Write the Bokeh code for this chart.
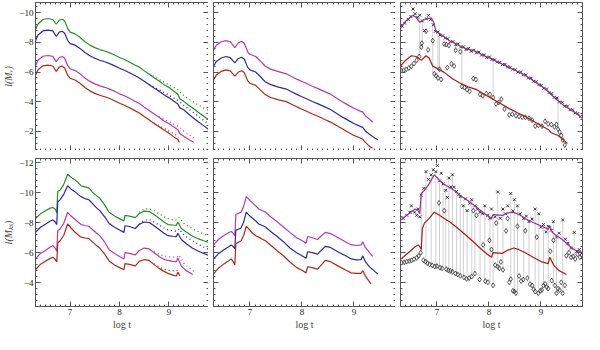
from bokeh.plotting import figure
from bokeh.layouts import gridplot
from bokeh.models import Range1d, LinearAxis, SingleIntervalTicker, CustomJSTickFormatter
from bokeh.embed import file_html
from bokeh.resources import INLINE

# ---------------- data: top row (visual band) ----------------
tl_t = [6.30, 6.35, 6.45, 6.55, 6.65, 6.72, 6.78, 6.84, 6.89, 6.95, 7.00, 7.10, 7.20, 7.30, 7.40, 7.50,
        7.60, 7.70, 7.80, 7.90, 8.00, 8.10, 8.20, 8.30, 8.40, 8.50, 8.60, 8.70, 8.80, 8.90, 9.00, 9.10,
        9.18, 9.22, 9.30, 9.40, 9.50, 9.60, 9.70, 9.80]
tl_green = [-8.87, -9.25, -9.55, -9.62, -9.55, -9.23, -9.50, -9.57, -9.45, -8.95, -8.70, -8.58, -8.35, -8.05, -7.82, -7.65,
            -7.52, -7.42, -7.30, -7.15, -6.98, -6.85, -6.68, -6.50, -6.32, -6.08, -5.85, -5.62, -5.40, -5.15, -4.95, -4.70,
            -4.50, -4.20, -4.02, -3.76, -3.52, -3.27, -3.02, -2.78]
tl_blue = [-8.12, -8.50, -8.78, -8.83, -8.78, -8.40, -8.70, -8.76, -8.62, -8.15, -7.92, -7.82, -7.60, -7.32, -7.10, -6.93,
           -6.80, -6.70, -6.57, -6.42, -6.26, -6.12, -5.95, -5.78, -5.60, -5.38, -5.15, -4.92, -4.70, -4.47, -4.26, -4.03,
           -3.85, -3.58, -3.45, -3.15, -2.88, -2.62, -2.38, -2.13]
tl_mag_t = tl_t[:37]
tl_magenta = [-6.41, -6.80, -7.07, -7.12, -7.06, -6.70, -6.98, -7.05, -6.93, -6.45, -6.22, -6.10, -5.88, -5.60, -5.37, -5.20,
              -5.07, -4.97, -4.85, -4.70, -4.53, -4.40, -4.23, -4.05, -3.87, -3.63, -3.40, -3.17, -2.95, -2.70, -2.50, -2.28,
              -2.10, -1.84, -1.66, -1.45, -1.25]
tl_red_t = tl_t[:33] + [9.21]
tl_red = [-5.77, -6.15, -6.42, -6.47, -6.41, -6.05, -6.33, -6.40, -6.28, -5.80, -5.58, -5.46, -5.24, -4.96, -4.73, -4.56,
          -4.43, -4.33, -4.21, -4.06, -3.89, -3.76, -3.59, -3.41, -3.23, -2.99, -2.76, -2.53, -2.31, -2.08, -1.86, -1.62,
          -1.45, -1.25]
tl_dot_t = [8.60, 8.70, 8.80, 8.90, 9.00, 9.10, 9.20, 9.30, 9.40, 9.50, 9.60, 9.70, 9.80]
tl_green_dot = [-5.87, -5.70, -5.50, -5.32, -5.14, -4.95, -4.75, -4.40, -4.18, -3.97, -3.77, -3.58, -3.40]
tl_blue_dot = [-5.17, -4.98, -4.80, -4.62, -4.44, -4.25, -4.05, -3.75, -3.50, -3.25, -3.00, -2.75, -2.50]
tl_mag_dot_t = [8.80, 8.90, 9.00, 9.10, 9.20, 9.30, 9.40, 9.50]
tl_magenta_dot = [-2.98, -2.80, -2.64, -2.48, -2.30, -2.02, -1.78, -1.55]
tl_red_dot_t = [8.70, 8.80, 8.90, 9.00, 9.10, 9.20]
tl_red_dot = [-2.55, -2.37, -2.20, -2.02, -1.84, -1.62]

tm_t = [6.30, 6.35, 6.45, 6.54, 6.62, 6.71, 6.78, 6.84, 6.89, 6.96, 7.00, 7.11, 7.20, 7.29, 7.40, 7.55,
        7.70, 7.80, 7.90, 8.00, 8.08, 8.20, 8.30, 8.45, 8.55, 8.70, 8.80, 8.90, 9.00, 9.11, 9.17, 9.22,
        9.30, 9.36, 9.41, 9.46]
tm_magenta = [-7.48, -7.80, -8.05, -8.12, -8.05, -7.65, -7.98, -8.08, -7.95, -7.35, -7.20, -7.05, -6.75, -6.41, -6.20, -6.03,
              -5.88, -5.70, -5.52, -5.36, -5.24, -5.04, -4.90, -4.66, -4.50, -4.17, -3.95, -3.75, -3.55, -3.38, -3.29, -3.05,
              -2.82, -2.61]
tm_blue = [-6.37, -6.70, -6.95, -7.05, -6.98, -6.62, -6.92, -7.00, -6.88, -6.30, -6.15, -6.00, -5.70, -5.35, -5.15, -4.98,
           -4.85, -4.67, -4.49, -4.33, -4.21, -4.01, -3.87, -3.63, -3.47, -3.14, -2.92, -2.72, -2.52, -2.35, -2.26, -2.02,
           -1.80, -1.64, -1.53, -1.43]
tm_red = [-5.45, -5.78, -6.05, -6.15, -6.08, -5.72, -6.00, -6.09, -5.97, -5.40, -5.24, -5.10, -4.80, -4.49, -4.28, -4.12,
          -4.00, -3.83, -3.65, -3.49, -3.37, -3.17, -3.03, -2.78, -2.62, -2.32, -2.12, -1.92, -1.72, -1.56, -1.47, -1.25,
          -0.98, -0.85]

tr_line_t = [6.30, 6.40, 6.54, 6.60, 6.67, 6.75, 6.82, 6.89, 6.94, 6.98, 7.05, 7.14, 7.25, 7.35, 7.45, 7.55,
             7.65, 7.77, 7.90, 8.00, 8.08, 8.20, 8.30, 8.39, 8.50, 8.60, 8.70, 8.80, 8.90, 9.02, 9.10, 9.18,
             9.25, 9.33, 9.45, 9.55, 9.64, 9.72, 9.80]
tr_magenta = [-8.97, -9.45, -9.83, -9.70, -9.36, -9.55, -9.60, -9.66, -9.35, -8.76, -8.60, -8.38, -8.10, -7.95, -7.74, -7.60,
              -7.50, -7.37, -7.10, -6.98, -6.84, -6.63, -6.46, -6.30, -6.12, -5.95, -5.77, -5.55, -5.30, -5.02, -4.80, -4.55,
              -4.30, -4.06, -3.70, -3.50, -3.31, -3.10, -2.88]
tr_red_t = [6.30, 6.40, 6.51, 6.60, 6.70, 6.79, 6.85, 6.92, 7.00, 7.14, 7.30, 7.45, 7.60, 7.77, 7.90, 8.08,
            8.20, 8.39, 8.55, 8.70, 8.85, 9.02, 9.15, 9.20, 9.33, 9.42, 9.51]
tr_red = [-6.41, -6.80, -7.10, -7.05, -6.79, -7.10, -6.95, -6.40, -6.25, -5.98, -5.55, -5.24, -5.00, -4.81, -4.52, -4.17,
          -3.92, -3.53, -3.25, -3.00, -2.70, -2.35, -2.10, -1.90, -1.71, -1.45, -1.17]
tr_cross_t = [6.33, 6.38, 6.45, 6.50, 6.54, 6.58, 6.63, 6.67, 6.72, 6.76, 6.80, 6.84, 6.88, 6.93, 6.97, 7.02,
              7.06, 7.11, 7.16, 7.21, 7.26, 7.31, 7.36, 7.41, 7.46, 7.51, 7.56, 7.61, 7.66, 7.71, 7.76, 7.81,
              7.86, 7.91, 7.96, 8.01, 8.06, 8.11, 8.16, 8.21, 8.26, 8.31, 8.36, 8.41, 8.46, 8.51, 8.56, 8.61,
              8.66, 8.71, 8.76, 8.81, 8.86, 8.91, 8.96, 9.01, 9.06, 9.11, 9.16, 9.21, 9.26, 9.31, 9.36, 9.41,
              9.46, 9.51, 9.56, 9.61, 9.66, 9.71, 9.76]
tr_cross = [-9.10, -9.30, -9.55, -9.75, -10.26, -9.94, -9.70, -9.85, -9.45, -8.80, -9.60, -9.83, -9.55, -9.20, -8.75, -8.70,
            -8.50, -8.45, -8.30, -8.25, -8.05, -8.05, -7.85, -7.90, -7.70, -7.70, -7.52, -7.60, -7.40, -7.48, -7.30, -7.35,
            -7.15, -7.15, -6.98, -7.02, -6.85, -6.82, -6.68, -6.65, -6.50, -6.52, -6.35, -6.32, -6.18, -6.15, -6.00, -6.00,
            -5.82, -5.80, -5.60, -5.58, -5.38, -5.35, -5.15, -5.10, -4.90, -4.85, -4.62, -4.55, -4.30, -4.25, -3.98, -3.95,
            -3.70, -3.70, -3.45, -3.45, -3.25, -3.20, -3.00]
tr_diam_t = [6.31, 6.36, 6.41, 6.46, 6.51, 6.56, 6.61, 6.66, 6.70, 6.71, 6.79, 6.83, 6.92, 6.95, 6.98, 7.02,
             7.05, 7.08, 7.14, 7.18, 7.20, 7.23, 7.28, 7.33, 7.36, 7.45, 7.48, 7.53, 7.58, 7.63, 7.70, 7.75,
             7.83, 7.88, 7.95, 8.02, 8.08, 8.14, 8.19, 8.24, 8.30, 8.39, 8.45, 8.52, 8.58, 8.64, 8.70, 8.77,
             8.83, 8.89, 8.95, 9.02, 9.08, 9.14, 9.20, 9.26, 9.30, 9.33, 9.36, 9.39, 9.42, 9.46]
tr_diam = [-6.10, -6.12, -6.18, -6.27, -6.40, -6.58, -6.80, -7.05, -7.69, -7.95, -8.76, -7.50, -8.12, -5.88, -5.75, -5.60,
           -6.20, -5.50, -7.90, -7.85, -6.30, -7.80, -6.55, -6.41, -7.48, -7.37, -5.02, -4.95, -4.81, -4.70, -5.56, -5.50,
           -4.49, -4.40, -4.55, -4.49, -4.28, -3.85, -3.95, -4.17, -3.50, -3.10, -3.15, -3.05, -3.00, -2.95, -2.95, -2.88,
           -2.75, -2.35, -2.40, -2.35, -2.67, -2.50, -2.45, -2.30, -2.46, -2.14, -1.95, -1.71, -1.40, -1.07]
tr_seg_t = [6.67, 6.72, 6.92, 7.02, 7.05, 7.36, 7.48, 8.08, 9.33]
tr_seg_top = [-9.85, -9.45, -9.20, -8.70, -8.50, -7.85, -7.70, -6.85, -4.25]
tr_seg_bot = [-7.05, -7.69, -5.88, -5.60, -6.20, -7.48, -5.02, -4.28, -2.14]

# ---------------- data: bottom row (Ks band) ----------------
bl_t = [6.30, 6.40, 6.50, 6.60, 6.65, 6.70, 6.73, 6.75, 6.80, 6.87, 6.95, 7.02, 7.09, 7.16, 7.22, 7.30,
        7.38, 7.45, 7.52, 7.60, 7.70, 7.79, 7.90, 8.00, 8.09, 8.11, 8.20, 8.32, 8.40, 8.50, 8.60, 8.70,
        8.80, 8.90, 8.98, 9.08, 9.15, 9.18, 9.25, 9.35, 9.48, 9.60, 9.70, 9.80]
bl_green = [-8.29, -8.60, -8.80, -8.98, -9.02, -8.90, -8.67, -10.10, -10.20, -10.55, -11.25, -11.05, -10.90, -10.70, -10.48, -10.40,
            -10.33, -10.05, -9.85, -9.64, -9.20, -8.70, -8.45, -8.28, -8.12, -8.50, -8.45, -8.35, -8.62, -8.78, -8.75, -8.55,
            -8.30, -8.05, -7.88, -7.85, -7.83, -8.05, -7.62, -7.38, -7.10, -6.92, -6.80, -6.70]
bl_blue = [-7.36, -7.70, -7.90, -8.12, -8.19, -8.05, -7.88, -9.40, -9.55, -9.90, -10.48, -10.25, -10.10, -9.90, -9.75, -9.62,
           -9.54, -9.30, -9.05, -8.81, -8.40, -7.95, -7.70, -7.52, -7.36, -7.80, -7.75, -7.62, -7.90, -8.05, -8.02, -7.80,
           -7.55, -7.30, -7.14, -7.10, -7.08, -7.30, -6.88, -6.60, -6.30, -6.10, -5.95, -5.83]
bl_mag_t = bl_t[:41]
bl_magenta = [-5.58, -5.95, -6.15, -6.38, -6.46, -6.30, -6.10, -7.45, -7.60, -7.95, -8.70, -8.45, -8.25, -8.05, -7.88, -7.82,
              -7.77, -7.55, -7.35, -7.14, -6.70, -6.20, -5.95, -5.75, -5.58, -6.00, -5.95, -5.85, -6.15, -6.31, -6.25, -6.00,
              -5.75, -5.55, -5.48, -5.42, -5.40, -5.65, -5.10, -4.80, -4.54]
bl_red_t = bl_t[:38] + [9.22]
bl_red = [-4.86, -5.22, -5.42, -5.62, -5.69, -5.55, -5.38, -6.65, -6.80, -7.15, -7.92, -7.65, -7.40, -7.20, -7.04, -6.98,
          -6.94, -6.72, -6.52, -6.31, -5.90, -5.45, -5.18, -5.00, -4.86, -5.27, -5.22, -5.12, -5.42, -5.54, -5.48, -5.20,
          -4.95, -4.75, -4.62, -4.50, -4.44, -4.70, -4.45]
bl_dot_t = [8.40, 8.50, 8.60, 8.70, 8.80, 8.90, 9.00, 9.10, 9.17, 9.20, 9.30, 9.40, 9.50, 9.60, 9.70, 9.80]
bl_green_dot = [-8.70, -8.92, -8.95, -8.80, -8.60, -8.40, -8.25, -8.20, -8.20, -8.35, -7.95, -7.75, -7.55, -7.40, -7.25, -7.10]
bl_blue_dot = [-7.90, -8.18, -8.22, -8.05, -7.85, -7.65, -7.50, -7.45, -7.45, -7.60, -7.20, -6.95, -6.75, -6.55, -6.38, -6.22]
bl_mag_dot_t = [8.70, 8.80, 8.90, 9.00, 9.10, 9.17, 9.20, 9.30, 9.40, 9.50]
bl_magenta_dot = [-6.05, -5.90, -5.78, -5.72, -5.70, -5.72, -5.85, -5.30, -5.00, -4.75]
bl_red_dot_t = [8.70, 8.80, 8.90, 9.00, 9.10, 9.17, 9.20]
bl_red_dot = [-5.25, -5.05, -4.90, -4.82, -4.78, -4.80, -4.95]

bm_t = [6.30, 6.40, 6.50, 6.60, 6.64, 6.68, 6.71, 6.73, 6.83, 6.88, 6.93, 7.00, 7.05, 7.12, 7.17, 7.24,
        7.30, 7.40, 7.52, 7.65, 7.77, 7.90, 8.00, 8.08, 8.11, 8.20, 8.30, 8.38, 8.45, 8.55, 8.70, 8.85,
        8.95, 9.05, 9.14, 9.17, 9.22, 9.30, 9.36, 9.40, 9.46]
bm_magenta = [-6.52, -6.90, -7.15, -7.35, -7.42, -7.30, -7.14, -8.55, -8.71, -9.10, -9.75, -9.50, -9.33, -9.10, -8.92, -8.80,
              -8.71, -8.40, -8.08, -7.70, -7.36, -7.00, -6.82, -6.63, -7.08, -7.00, -6.88, -7.15, -7.36, -7.28, -7.00, -6.70,
              -6.52, -6.48, -6.52, -6.73, -6.35, -6.00, -5.75]
bm_blue = [-5.58, -5.95, -6.20, -6.42, -6.52, -6.40, -6.27, -7.50, -7.65, -8.05, -8.71, -8.45, -8.30, -8.10, -7.92, -7.82,
           -7.72, -7.42, -7.10, -6.72, -6.31, -6.00, -5.80, -5.62, -6.06, -6.00, -5.90, -6.18, -6.42, -6.35, -6.05, -5.78,
           -5.58, -5.52, -5.54, -5.79, -5.40, -5.05, -4.88, -4.75, -4.58]
bm_red_t = bm_t[:37] + [9.28, 9.33]
bm_red = [-4.58, -4.98, -5.25, -5.48, -5.58, -5.40, -5.17, -6.60, -6.80, -7.15, -7.77, -7.50, -7.30, -7.12, -7.04, -6.90,
          -6.80, -6.50, -6.15, -5.78, -5.38, -5.00, -4.82, -4.65, -5.06, -5.00, -4.90, -5.20, -5.48, -5.40, -5.10, -4.82,
          -4.65, -4.62, -4.62, -4.81, -4.45, -4.15, -3.92]

br_mag_t = [6.31, 6.40, 6.50, 6.58, 6.63, 6.67, 6.70, 6.76, 6.85, 6.95, 7.05, 7.14, 7.25, 7.33, 7.42, 7.52,
            7.65, 7.77, 7.90, 8.05, 8.08, 8.27, 8.35, 8.46, 8.58, 8.70, 8.85, 9.02, 9.14, 9.17, 9.22, 9.30,
            9.39, 9.50, 9.64, 9.72, 9.80]
br_magenta = [-8.19, -8.45, -8.70, -8.92, -8.85, -8.60, -9.96, -10.17, -10.60, -11.21, -10.85, -10.58, -10.35, -10.17, -9.90, -9.65,
              -9.35, -9.02, -8.65, -8.29, -8.55, -8.50, -8.65, -8.71, -8.55, -8.29, -8.02, -7.77, -7.56, -7.80, -7.35, -7.15,
              -6.94, -6.60, -6.21, -6.10, -6.00]
br_red_t = [6.31, 6.40, 6.50, 6.58, 6.64, 6.67, 6.70, 6.72, 6.76, 6.85, 6.95, 7.05, 7.14, 7.25, 7.39, 7.55,
            7.70, 7.85, 7.97, 8.05, 8.08, 8.25, 8.35, 8.48, 8.58, 8.70, 8.85, 9.02, 9.14, 9.17, 9.25, 9.35, 9.49]
br_red = [-5.58, -5.85, -6.15, -6.40, -6.52, -6.40, -6.21, -7.60, -7.98, -8.30, -8.71, -8.50, -8.29, -8.05, -7.67, -7.20,
          -6.73, -6.25, -5.90, -5.69, -6.00, -5.95, -6.15, -6.31, -6.20, -6.00, -5.70, -5.38, -5.27, -5.70, -5.15, -4.80, -4.54]
br_cross_t = [6.35, 6.42, 6.48, 6.51, 6.57, 6.61, 6.64, 6.67, 6.70, 6.75, 6.79, 6.84, 6.89, 6.93, 6.98, 7.01,
              7.05, 7.08, 7.12, 7.17, 7.20, 7.23, 7.27, 7.30, 7.33, 7.38, 7.42, 7.45, 7.51, 7.55, 7.58, 7.63,
              7.67, 7.73, 7.78, 7.83, 7.88, 7.92, 7.98, 8.02, 8.05, 8.12, 8.17, 8.22, 8.27, 8.32, 8.36, 8.42,
              8.46, 8.49, 8.55, 8.60, 8.67, 8.72, 8.77, 8.83, 8.89, 8.96, 9.00, 9.05, 9.10, 9.14, 9.20, 9.24,
              9.30, 9.35, 9.42, 9.47, 9.52, 9.58, 9.64, 9.69, 9.74, 9.78]
br_cross = [-8.29, -8.50, -8.71, -9.13, -8.71, -8.50, -8.92, -8.40, -9.85, -10.30, -11.42, -10.90, -11.21, -11.55, -11.42, -11.83,
            -10.80, -11.31, -10.60, -10.17, -9.70, -11.00, -10.40, -11.21, -10.38, -10.10, -9.90, -9.75, -9.13, -9.60, -8.81, -9.30,
            -9.54, -9.13, -8.90, -8.71, -8.60, -9.13, -8.50, -8.30, -8.92, -8.40, -10.06, -8.30, -8.92, -8.60, -9.13, -9.96,
            -8.80, -9.54, -9.13, -8.60, -8.29, -8.45, -8.08, -8.25, -8.92, -8.60, -7.70, -7.88, -7.40, -7.77, -7.50, -8.08,
            -7.04, -7.30, -8.19, -6.90, -6.63, -6.30, -7.35, -6.10, -6.21, -5.95]
br_diam_t = [6.32, 6.37, 6.42, 6.47, 6.51, 6.56, 6.61, 6.65, 6.69, 6.74, 6.78, 6.82, 6.86, 6.91, 6.96, 7.00,
             7.04, 7.06, 7.10, 7.14, 7.18, 7.22, 7.26, 7.30, 7.36, 7.40, 7.45, 7.52, 7.57, 7.62, 7.67, 7.70,
             7.73, 7.76, 7.82, 7.89, 7.93, 7.98, 8.01, 8.05, 8.08, 8.12, 8.14, 8.17, 8.20, 8.23, 8.27, 8.33,
             8.36, 8.39, 8.42, 8.46, 8.49, 8.52, 8.55, 8.58, 8.62, 8.66, 8.70, 8.74, 8.79, 8.83, 8.86, 8.89,
             8.92, 8.95, 8.99, 9.02, 9.05, 9.08, 9.11, 9.14, 9.18, 9.21, 9.24, 9.27, 9.30, 9.33, 9.36, 9.39,
             9.42, 9.46, 9.49, 9.54, 9.58, 9.62, 9.66, 9.70, 9.75, 9.79]
br_diam = [-5.33, -5.36, -5.40, -5.44, -5.48, -5.56, -5.65, -5.78, -6.00, -5.50, -5.40, -5.30, -5.22, -5.15, -5.08, -5.10,
           -9.33, -5.00, -4.95, -8.81, -4.90, -4.82, -4.78, -4.72, -4.60, -4.55, -4.45, -4.35, -4.25, -4.30, -4.40, -8.81,
           -4.60, -8.50, -4.20, -6.52, -4.10, -4.02, -6.83, -6.21, -3.81, -5.17, -7.98, -5.06, -4.96, -5.38, -4.85, -7.46,
           -8.29, -4.02, -4.23, -3.45, -3.40, -3.29, -7.77, -4.44, -4.10, -4.20, -7.46, -4.30, -3.90, -3.81, -3.55, -3.40,
           -7.04, -3.29, -3.45, -3.50, -3.80, -3.92, -3.70, -3.60, -6.10, -4.13, -6.83, -3.81, -3.29, -3.60, -3.50, -4.02,
           -3.29, -3.81, -5.79, -6.00, -5.69, -5.75, -5.58, -5.90, -5.70, -5.85]
br_seg_t = [6.70, 6.79, 6.89, 6.98, 7.05, 7.12, 7.17, 7.23, 7.30, 7.38, 7.45, 7.51, 7.58, 7.67, 7.73, 7.83,
            7.92, 8.02, 8.08, 8.17, 8.27, 8.42, 8.49, 8.55, 8.67, 8.77, 8.89, 8.96, 9.05, 9.14, 9.24, 9.30,
            9.42, 9.52, 9.64]
br_seg_top = [-9.85, -11.42, -11.21, -11.42, -10.80, -10.60, -10.17, -11.00, -11.21, -10.10, -9.75, -9.13, -8.81, -9.54, -9.13, -8.71,
              -9.13, -8.30, -8.60, -10.06, -8.92, -9.96, -9.54, -9.13, -8.29, -8.08, -8.92, -8.60, -7.88, -7.77, -8.08, -7.04,
              -8.19, -6.63, -7.35]
br_seg_bot = [-6.00, -5.40, -5.15, -5.08, -5.00, -4.95, -4.90, -4.82, -4.72, -4.60, -4.45, -4.35, -4.25, -4.40, -4.60, -4.20,
              -4.10, -3.90, -3.81, -5.06, -4.85, -4.23, -3.40, -3.35, -4.20, -4.30, -3.40, -3.29, -3.80, -3.60, -3.81, -3.29,
              -3.29, -5.79, -5.58]

x_ticks_major = 1
y_ticks_major = 2
top_y_range = (-0.7, -10.7)
bottom_y_range = (-2.4, -12.3)
x_range = (6.3, 9.8)
y_label_top = "l(M\u1d65)"
y_label_bottom = "l(M\u2096\u209b)"
x_label = "log t"

# ---------------- styling ----------------
FONT = "Liberation Serif"
GREEN = "#2b8a2b"
BLUE = "#2a2aa6"
MAGENTA = "#b53ab5"
RED = "#ae2a1c"
PURPLE = "#9a2c9e"
DARKRED = "#a81c14"
AXC = "#555555"
LW = 1.2

PLOT_W = 182
PLOT_H = 148


def style_axis(ax, show_labels):
    ax.major_tick_in = 5
    ax.major_tick_out = 0
    ax.minor_tick_in = 2
    ax.minor_tick_out = 0
    ax.axis_line_color = AXC
    ax.major_tick_line_color = AXC
    ax.minor_tick_line_color = AXC
    ax.axis_line_width = 1
    if show_labels:
        ax.major_label_text_font = FONT
        ax.major_label_text_font_size = "9px"
        ax.major_label_text_color = "#222222"
        ax.major_label_standoff = 2
    else:
        ax.formatter = CustomJSTickFormatter(code="return ''")
        ax.major_label_standoff = 0
        ax.major_label_text_font_size = "1px"


def make_fig(col, row):
    left_b = 26 if col == 0 else 5
    right_b = 1 if col == 2 else 0
    top_b = 2 if row == 0 else 8
    bot_b = 0 if row == 0 else 26
    yr = top_y_range if row == 0 else bottom_y_range
    p = figure(width=PLOT_W + left_b + right_b, height=PLOT_H + top_b + bot_b,
               x_range=Range1d(*x_range), y_range=Range1d(*yr),
               x_axis_location=None, y_axis_location=None,
               output_backend="svg", toolbar_location=None,
               min_border_left=left_b, min_border_right=right_b,
               min_border_top=top_b, min_border_bottom=bot_b)
    p.outline_line_color = None
    p.background_fill_color = "white"
    p.border_fill_color = "white"
    p.xgrid.visible = False
    p.ygrid.visible = False
    p.grid.grid_line_color = None

    xt = SingleIntervalTicker(interval=x_ticks_major, num_minor_ticks=10)
    yt = SingleIntervalTicker(interval=y_ticks_major, num_minor_ticks=5)

    xb = LinearAxis(ticker=xt)
    style_axis(xb, row == 1)
    if row == 1:
        xb.axis_label = x_label
        xb.axis_label_text_font = FONT
        xb.axis_label_text_font_size = "10px"
        xb.axis_label_text_font_style = "normal"
        xb.axis_label_standoff = 1
    p.add_layout(xb, "below")
    xa = LinearAxis(ticker=xt)
    style_axis(xa, False)
    p.add_layout(xa, "above")

    yl = LinearAxis(ticker=yt)
    style_axis(yl, col == 0)
    if col == 0:
        yl.axis_label = y_label_top if row == 0 else y_label_bottom
        yl.axis_label_text_font = FONT
        yl.axis_label_text_font_size = "10px"
        yl.axis_label_text_font_style = "italic"
        yl.axis_label_standoff = 2
    p.add_layout(yl, "left")
    yr_ax = LinearAxis(ticker=yt)
    style_axis(yr_ax, False)
    p.add_layout(yr_ax, "right")
    return p


def solid(p, t, y, c):
    p.line(t, y, line_color=c, line_width=LW)


def dotted(p, t, y, c):
    p.line(t, y, line_color=c, line_width=1.3, line_dash="1 3")


def scatter_panel(p, seg_t, seg_top, seg_bot, ct, cy, dt, dy):
    p.segment(x0=seg_t, y0=seg_top, x1=seg_t, y1=seg_bot, line_color="#c4c4c4", line_width=0.8)
    p.scatter(dt, dy, marker="diamond", size=5, fill_color=None, line_color="#333333", line_width=0.8)
    p.scatter(ct, cy, marker="x", size=4, line_color="#222222", line_width=0.9)


# top row
p1 = make_fig(0, 0)
dotted(p1, tl_dot_t, tl_green_dot, GREEN)
dotted(p1, tl_dot_t, tl_blue_dot, BLUE)
dotted(p1, tl_mag_dot_t, tl_magenta_dot, MAGENTA)
dotted(p1, tl_red_dot_t, tl_red_dot, RED)
solid(p1, tl_t, tl_green, GREEN)
solid(p1, tl_t, tl_blue, BLUE)
solid(p1, tl_mag_t, tl_magenta, MAGENTA)
solid(p1, tl_red_t, tl_red, RED)

p2 = make_fig(1, 0)
solid(p2, tm_t[:len(tm_magenta)], tm_magenta, MAGENTA)
solid(p2, tm_t, tm_blue, BLUE)
solid(p2, tm_t[:len(tm_red)], tm_red, RED)

p3 = make_fig(2, 0)
scatter_panel(p3, tr_seg_t, tr_seg_top, tr_seg_bot, tr_cross_t, tr_cross, tr_diam_t, tr_diam)
solid(p3, tr_line_t, tr_magenta, PURPLE)
solid(p3, tr_red_t, tr_red, DARKRED)

# bottom row
p4 = make_fig(0, 1)
dotted(p4, bl_dot_t, bl_green_dot, GREEN)
dotted(p4, bl_dot_t, bl_blue_dot, BLUE)
dotted(p4, bl_mag_dot_t, bl_magenta_dot, MAGENTA)
dotted(p4, bl_red_dot_t, bl_red_dot, RED)
solid(p4, bl_t, bl_green, GREEN)
solid(p4, bl_t, bl_blue, BLUE)
solid(p4, bl_mag_t, bl_magenta, MAGENTA)
solid(p4, bl_red_t, bl_red, RED)

p5 = make_fig(1, 1)
solid(p5, bm_t[:len(bm_magenta)], bm_magenta, MAGENTA)
solid(p5, bm_t, bm_blue, BLUE)
solid(p5, bm_red_t, bm_red, RED)

p6 = make_fig(2, 1)
scatter_panel(p6, br_seg_t, br_seg_top, br_seg_bot, br_cross_t, br_cross, br_diam_t, br_diam)
solid(p6, br_mag_t, br_magenta, PURPLE)
solid(p6, br_red_t, br_red, DARKRED)

grid = gridplot([[p1, p2, p3], [p4, p5, p6]], toolbar_location=None)

with open("out.html", "w") as f:
    f.write(file_html(grid, INLINE))
